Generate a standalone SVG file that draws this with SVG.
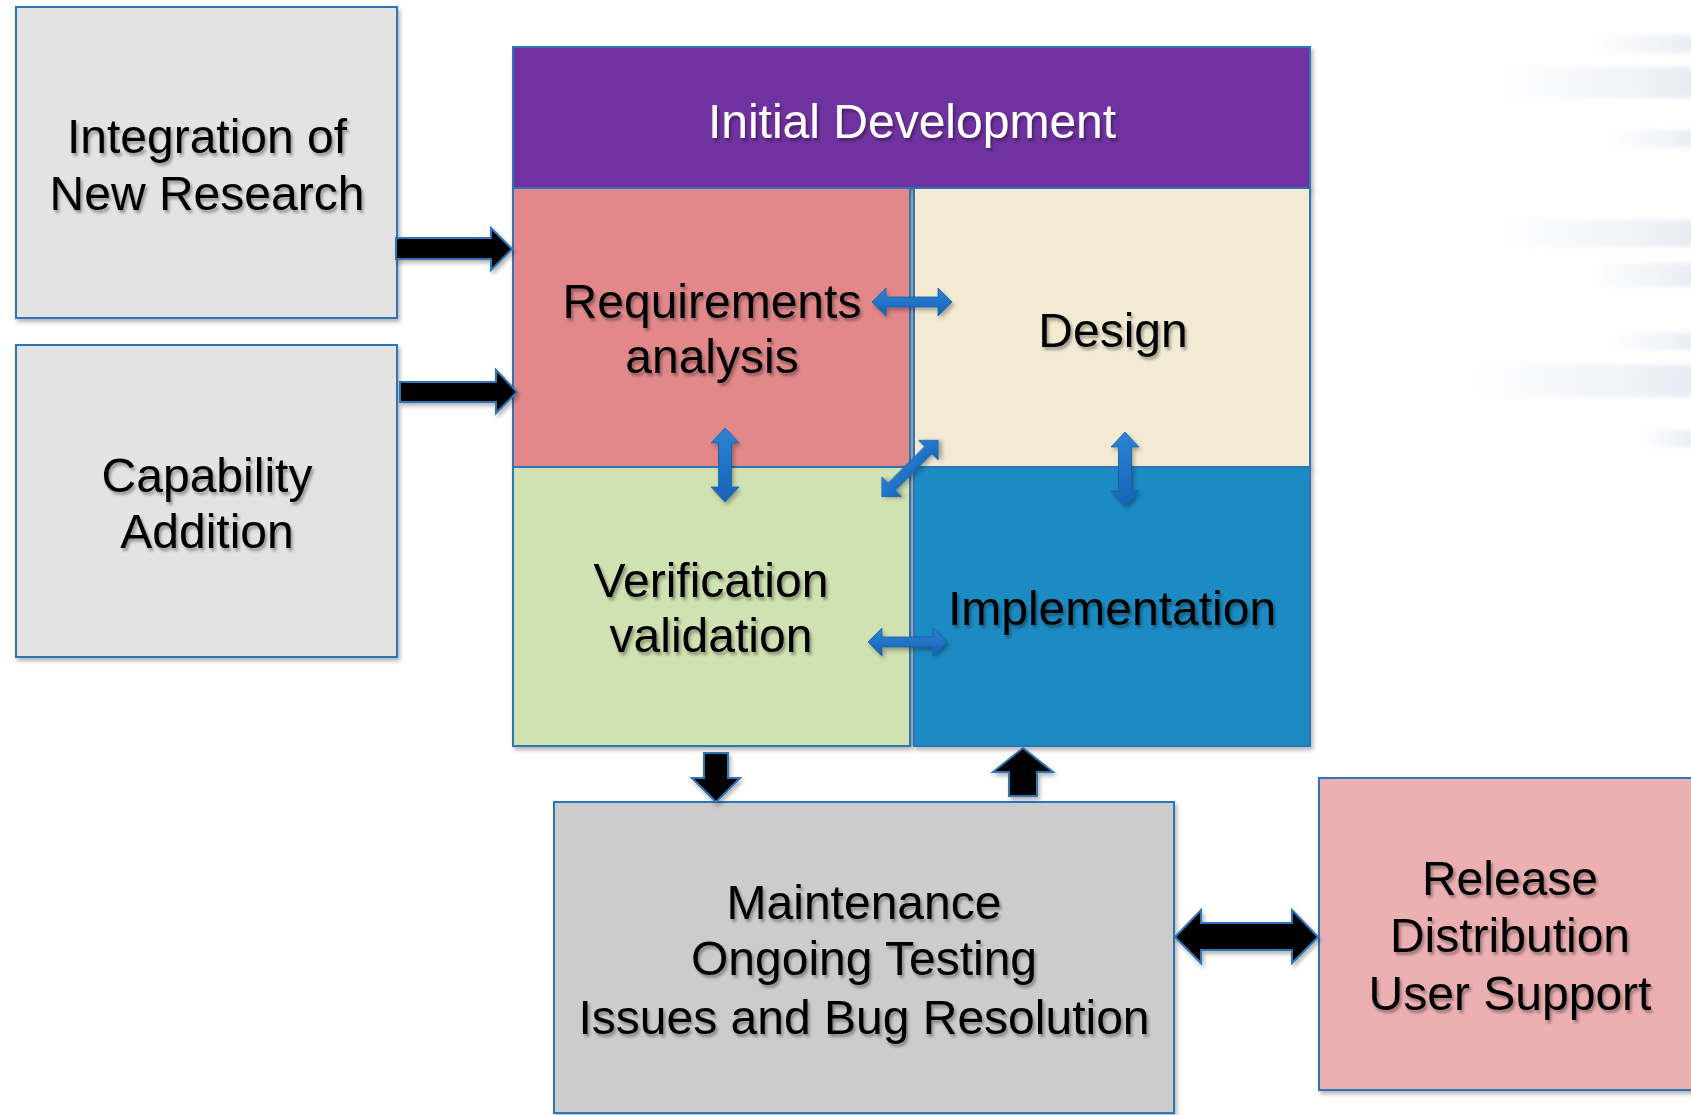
<svg xmlns="http://www.w3.org/2000/svg" width="1691" height="1115" viewBox="0 0 1691 1115">
<style>
.box{stroke:#2E75B6;stroke-width:2;filter:url(#bshadow)}
.t{font-family:"Liberation Sans",Arial,sans-serif;font-size:48px;text-anchor:middle;fill:#000;filter:url(#tshadow)}
.w{fill:#fff}
.blk{fill:#000;stroke:#2E75B6;stroke-width:2;stroke-linejoin:miter;filter:url(#bshadow)}
.blu{fill:url(#blueg);stroke:#1A5EA8;stroke-width:0.8;filter:url(#ashadow)}
.streak{fill:url(#sg);filter:url(#sblur)}
</style>
<defs>
<filter id="bshadow" x="-10%" y="-10%" width="130%" height="130%"><feDropShadow dx="2" dy="3" stdDeviation="2" flood-color="#000" flood-opacity="0.3"/></filter>
<filter id="tshadow" x="-10%" y="-20%" width="130%" height="150%"><feDropShadow dx="2" dy="3" stdDeviation="1.6" flood-color="#000" flood-opacity="0.35"/></filter>
<filter id="ashadow" x="-30%" y="-30%" width="170%" height="170%"><feDropShadow dx="2" dy="3" stdDeviation="2" flood-color="#000" flood-opacity="0.3"/></filter>
<filter id="sblur" x="-10%" y="-50%" width="120%" height="200%"><feGaussianBlur stdDeviation="2"/></filter>
<linearGradient id="blueg" x1="0" y1="0" x2="0" y2="1"><stop offset="0" stop-color="#2C83D4"/><stop offset="1" stop-color="#1763B8"/></linearGradient>
<linearGradient id="sg" x1="0" y1="0" x2="1" y2="0"><stop offset="0" stop-color="#E8ECF3" stop-opacity="0"/><stop offset="0.6" stop-color="#ECEFF5" stop-opacity="0.7"/><stop offset="1" stop-color="#E6EAF2"/></linearGradient>
</defs>
<rect width="1691" height="1115" fill="#fff"/>
<g id="background">
<rect class="streak" x="1590" y="35" width="110" height="18"/>
<rect class="streak" x="1500" y="67" width="200" height="31"/>
<rect class="streak" x="1610" y="130" width="90" height="17"/>
<rect class="streak" x="1500" y="220" width="200" height="27"/>
<rect class="streak" x="1590" y="263" width="110" height="24"/>
<rect class="streak" x="1610" y="333" width="90" height="17"/>
<rect class="streak" x="1470" y="365" width="230" height="32"/>
<rect class="streak" x="1640" y="430" width="60" height="17"/>
</g>
<g id="integration">
<rect class="box" x="16" y="7" width="381" height="311" fill="#E3E3E3"/>
<text class="t" x="207" y="153">Integration of</text>
<text class="t" x="207" y="210">New Research</text>
</g>
<g id="capability">
<rect class="box" x="16" y="345" width="381" height="312" fill="#E3E3E3"/>
<text class="t" x="207" y="492">Capability</text>
<text class="t" x="207" y="548">Addition</text>
</g>
<rect x="908" y="188" width="8" height="558" fill="#C8CCD2"/>
<g id="initial-development">
<rect class="box" x="513" y="47" width="797" height="141" fill="#7030A0"/>
<text class="t w" x="912" y="138">Initial Development</text>
</g>
<g id="requirements">
<rect class="box" x="513" y="188" width="397" height="279" fill="#E2888B"/>
<text class="t" x="712" y="318">Requirements</text>
<text class="t" x="712" y="373">analysis</text>
</g>
<g id="design">
<rect class="box" x="914" y="188" width="396" height="279" fill="#F2EAD3"/>
<text class="t" x="1113" y="347">Design</text>
</g>
<g id="verification">
<rect class="box" x="513" y="467" width="397" height="279" fill="#D0E2B1"/>
<text class="t" x="711" y="597">Verification</text>
<text class="t" x="711" y="652">validation</text>
</g>
<g id="implementation">
<rect class="box" x="914" y="467" width="396" height="279" fill="#1E8BC3"/>
<text class="t" x="1112" y="625">Implementation</text>
</g>
<g id="maintenance">
<rect class="box" x="554" y="802" width="620" height="311" fill="#CCCCCC"/>
<text class="t" x="864" y="919">Maintenance</text>
<text class="t" x="864" y="975">Ongoing Testing</text>
<text class="t" x="864" y="1034">Issues and Bug Resolution</text>
</g>
<g id="release">
<rect class="box" x="1319" y="778" width="390" height="312" fill="#EDB0B2"/>
<text class="t" x="1510" y="895">Release</text>
<text class="t" x="1510" y="952">Distribution</text>
<text class="t" x="1510" y="1010">User Support</text>
</g>
<g id="connectors">
<polygon class="blk" points="396,238 491,238 491,228 512,249 491,270 491,259 396,259"/>
<polygon class="blk" points="400,382 496,382 496,370 517,392 496,413 496,402 400,402"/>
<polygon class="blk" points="704,753 728,753 728,778 740,778 716,802 692,778 704,778"/>
<polygon class="blk" points="1023,748 1053,772 1037,772 1037,796 1009,796 1009,772 993,772"/>
<polygon class="blk" points="1175,937 1201,910 1201,923 1292,923 1292,910 1318,937 1292,963 1292,950 1201,950 1201,963"/>
<polygon class="blu" points="872,302 886,288 886,297 938,297 938,288 952,302 938,316 938,307 886,307 886,316"/>
<polygon class="blu" points="868,642 882,628 882,637 933,637 933,628 947,642 933,656 933,647 882,647 882,656"/>
<polygon class="blu" points="725,428 739,443 731.5,443 731.5,487 739,487 725,502 711,487 718.5,487 718.5,443 711,443"/>
<polygon class="blu" points="1125,432 1139,447 1131.5,447 1131.5,491 1139,491 1125,506 1111,491 1118.5,491 1118.5,447 1111,447"/>
<polygon class="blu" transform="translate(910,468.5) rotate(-45)" points="-40,0 -26,-14 -26,-5 26,-5 26,-14 40,0 26,14 26,5 -26,5 -26,14"/>
</g>
</svg>
